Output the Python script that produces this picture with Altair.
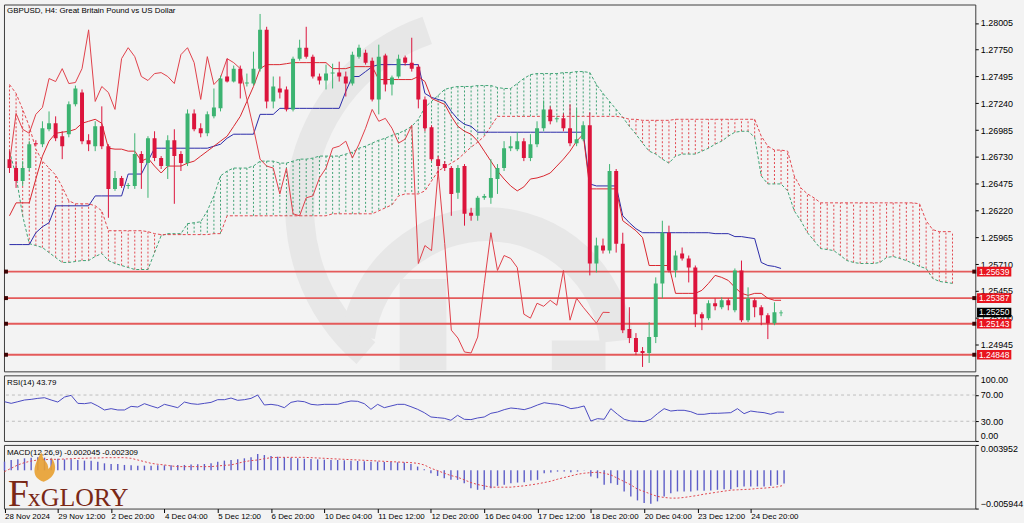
import json
import altair as alt
import pandas as pd

# ---------------- data ----------------
time_labels = ["28 Nov 2024", "29 Nov 12:00", "2 Dec 20:00", "4 Dec 04:00", "5 Dec 12:00",
               "6 Dec 20:00", "10 Dec 04:00", "11 Dec 12:00", "12 Dec 20:00", "16 Dec 04:00",
               "17 Dec 12:00", "18 Dec 20:00", "20 Dec 04:00", "23 Dec 12:00", "24 Dec 20:00"]

open_ = [1.26709, 1.26624, 1.26501, 1.26624, 1.26861, 1.26851, 1.26993, 1.27050, 1.26927, 1.26946,
         1.27230, 1.27343, 1.26889, 1.26832, 1.27021, 1.26832, 1.26426, 1.26530, 1.26454, 1.26454,
         1.26757, 1.26671, 1.26908, 1.26719, 1.26643, 1.26889, 1.26757, 1.26671, 1.27144, 1.27003,
         1.26955, 1.27116, 1.27192, 1.27495, 1.27447, 1.27570, 1.27428, 1.27428, 1.27570, 1.27939,
         1.27258, 1.27381, 1.27372, 1.27182, 1.27665, 1.27769, 1.27684, 1.27495, 1.27457, 1.27523,
         1.27532, 1.27495, 1.27428, 1.27684, 1.27722, 1.27646, 1.27277, 1.27694, 1.27419, 1.27495,
         1.27675, 1.27627, 1.27589, 1.27277, 1.27012, 1.26709, 1.26662, 1.26624, 1.26388, 1.26643,
         1.26199, 1.26170, 1.26341, 1.26341, 1.26520, 1.26624, 1.26813, 1.26804, 1.26880, 1.26719,
         1.26851, 1.27003, 1.27182, 1.27088, 1.27097, 1.27003, 1.26861, 1.26899, 1.27031, 1.25716,
         1.25887, 1.25839, 1.26596, 1.25905, 1.25092, 1.25007, 1.24884, 1.24865, 1.25016, 1.25527,
         1.26009, 1.25650, 1.25811, 1.25764, 1.25678, 1.25234, 1.25196, 1.25338, 1.25300, 1.25366,
         1.25271, 1.25650, 1.25177, 1.25366, 1.25300, 1.25224, 1.25148, 1.25243]
high_ = [1.26785, 1.26690, 1.26690, 1.26880, 1.26889, 1.27069, 1.27163, 1.27116, 1.26974, 1.27258,
         1.27409, 1.27372, 1.26946, 1.27069, 1.27211, 1.26851, 1.26596, 1.26549, 1.26482, 1.26955,
         1.26785, 1.26927, 1.26974, 1.26738, 1.26936, 1.26993, 1.26785, 1.27182, 1.27182, 1.27050,
         1.27163, 1.27381, 1.27504, 1.27665, 1.27599, 1.27599, 1.27523, 1.27731, 1.28090, 1.27968,
         1.27495, 1.27495, 1.27400, 1.27684, 1.27845, 1.27968, 1.27703, 1.27523, 1.27608, 1.27617,
         1.27636, 1.27542, 1.27731, 1.27798, 1.27750, 1.27675, 1.27798, 1.27712, 1.27504, 1.27703,
         1.27694, 1.27864, 1.27608, 1.27305, 1.27031, 1.26738, 1.26690, 1.26643, 1.26653, 1.26662,
         1.26246, 1.26359, 1.26378, 1.26709, 1.26662, 1.26880, 1.26927, 1.26965, 1.26908, 1.26946,
         1.27069, 1.27267, 1.27211, 1.27116, 1.27144, 1.27230, 1.27192, 1.27069, 1.27154, 1.25962,
         1.25953, 1.26662, 1.26615, 1.26009, 1.25300, 1.25054, 1.24921, 1.25158, 1.25584, 1.26123,
         1.26076, 1.25839, 1.25868, 1.25792, 1.25697, 1.25252, 1.25366, 1.25385, 1.25394, 1.25385,
         1.25669, 1.25744, 1.25489, 1.25385, 1.25319, 1.25243, 1.25347, 1.25271]
low_ = [1.26577, 1.26435, 1.26454, 1.26596, 1.26832, 1.26823, 1.26974, 1.26880, 1.26709, 1.26917,
        1.27211, 1.26851, 1.26785, 1.26785, 1.26804, 1.26151, 1.26407, 1.26435, 1.26426, 1.26426,
        1.26426, 1.26341, 1.26690, 1.26615, 1.26520, 1.26284, 1.26596, 1.26643, 1.26974, 1.26917,
        1.26927, 1.27097, 1.27163, 1.27438, 1.27438, 1.27286, 1.27400, 1.27409, 1.27542, 1.27192,
        1.27192, 1.27286, 1.27163, 1.27163, 1.27646, 1.27665, 1.27476, 1.27419, 1.27372, 1.27381,
        1.27447, 1.27305, 1.27409, 1.27665, 1.27608, 1.27258, 1.27135, 1.27353, 1.27315, 1.27476,
        1.27599, 1.27542, 1.27192, 1.26974, 1.26690, 1.26577, 1.26596, 1.26170, 1.26331, 1.26076,
        1.26123, 1.26123, 1.26322, 1.26284, 1.26378, 1.26596, 1.26785, 1.26785, 1.26690, 1.26690,
        1.26823, 1.26974, 1.27040, 1.27059, 1.26974, 1.26832, 1.26832, 1.26880, 1.25603, 1.25631,
        1.25811, 1.25811, 1.25820, 1.25054, 1.24959, 1.24846, 1.24732, 1.24770, 1.24959, 1.25385,
        1.25631, 1.25584, 1.25744, 1.25536, 1.25111, 1.25082, 1.25177, 1.25271, 1.25281, 1.25271,
        1.25252, 1.25158, 1.25158, 1.25205, 1.25129, 1.24997, 1.25129, 1.25215]
close_ = [1.26624, 1.26501, 1.26624, 1.26851, 1.26851, 1.27003, 1.27050, 1.26908, 1.26832, 1.27230,
          1.27381, 1.26880, 1.26851, 1.27021, 1.26832, 1.26426, 1.26530, 1.26454, 1.26463, 1.26757,
          1.26671, 1.26908, 1.26719, 1.26643, 1.26889, 1.26738, 1.26671, 1.27144, 1.26993, 1.26955,
          1.27135, 1.27201, 1.27476, 1.27447, 1.27570, 1.27428, 1.27438, 1.27570, 1.27939, 1.27258,
          1.27400, 1.27343, 1.27182, 1.27665, 1.27769, 1.27684, 1.27495, 1.27457, 1.27523, 1.27532,
          1.27495, 1.27428, 1.27703, 1.27769, 1.27627, 1.27277, 1.27684, 1.27419, 1.27485, 1.27665,
          1.27627, 1.27570, 1.27277, 1.27003, 1.26709, 1.26643, 1.26624, 1.26378, 1.26624, 1.26189,
          1.26170, 1.26341, 1.26359, 1.26530, 1.26624, 1.26813, 1.26832, 1.26880, 1.26719, 1.26851,
          1.27003, 1.27182, 1.27069, 1.27097, 1.27003, 1.26861, 1.26899, 1.27031, 1.25716, 1.25887,
          1.25839, 1.26596, 1.25905, 1.25082, 1.25007, 1.24874, 1.24865, 1.25016, 1.25527, 1.26009,
          1.25650, 1.25792, 1.25764, 1.25678, 1.25234, 1.25196, 1.25338, 1.25309, 1.25366, 1.25319,
          1.25650, 1.25177, 1.25385, 1.25300, 1.25224, 1.25148, 1.25252, 1.25250]

tenkan = [1.26170, 1.26293, 1.26293, 1.26293, 1.26520, 1.26738, 1.26880, 1.26955, 1.26965, 1.26974,
          1.26993, 1.27050, 1.27069, 1.27088, 1.27050, 1.26813, 1.26804, 1.26804, 1.26785, 1.26785,
          1.26690, 1.26719, 1.26643, 1.26577, 1.26643, 1.26643, 1.26643, 1.26671, 1.26690, 1.26738,
          1.26785, 1.26832, 1.26880, 1.26927, 1.27021, 1.27116, 1.27258, 1.27400, 1.27570, 1.27608,
          1.27608, 1.27608, 1.27617, 1.27627, 1.27627, 1.27627, 1.27627, 1.27627, 1.27627, 1.27570,
          1.27570, 1.27570, 1.27589, 1.27589, 1.27589, 1.27589, 1.27466, 1.27466, 1.27466, 1.27466,
          1.27466, 1.27466, 1.27495, 1.27447, 1.27286, 1.27258, 1.27230, 1.27116, 1.27021, 1.26974,
          1.26946, 1.26880, 1.26785, 1.26690, 1.26596, 1.26520, 1.26454, 1.26407, 1.26445, 1.26520,
          1.26530, 1.26549, 1.26577, 1.26643, 1.26709, 1.26785, 1.26880, 1.26946, 1.26426, 1.26426,
          1.26426, 1.26426, 1.26426, 1.26123, 1.26076, 1.26028, 1.25962, 1.25697, 1.25697, 1.25697,
          1.25697, 1.25432, 1.25432, 1.25432, 1.25432, 1.25461, 1.25527, 1.25603, 1.25584, 1.25555,
          1.25489, 1.25432, 1.25413, 1.25432, 1.25432, 1.25385, 1.25366, 1.25366]
kijun = [1.25896, 1.25896, 1.25896, 1.25896, 1.26009, 1.26066, 1.26104, 1.26265, 1.26265, 1.26265,
         1.26265, 1.26265, 1.26265, 1.26359, 1.26359, 1.26359, 1.26359, 1.26359, 1.26567, 1.26567,
         1.26567, 1.26690, 1.26813, 1.26813, 1.26813, 1.26813, 1.26813, 1.26813, 1.26813, 1.26813,
         1.26813, 1.26832, 1.26851, 1.26908, 1.26946, 1.26946, 1.26946, 1.26946, 1.27135, 1.27135,
         1.27135, 1.27192, 1.27192, 1.27192, 1.27192, 1.27192, 1.27192, 1.27192, 1.27192, 1.27192,
         1.27192, 1.27353, 1.27495, 1.27495, 1.27542, 1.27589, 1.27608, 1.27608, 1.27608, 1.27608,
         1.27608, 1.27608, 1.27608, 1.27334, 1.27296, 1.27277, 1.27258, 1.27163, 1.27088, 1.27040,
         1.27021, 1.26965, 1.26965, 1.26965, 1.26965, 1.26965, 1.26965, 1.26965, 1.26965, 1.26965,
         1.26965, 1.26965, 1.26965, 1.26965, 1.26965, 1.26965, 1.26965, 1.26965, 1.26473, 1.26454,
         1.26454, 1.26454, 1.26454, 1.26170, 1.26104, 1.26047, 1.26009, 1.26009, 1.26009, 1.26009,
         1.26009, 1.26009, 1.26009, 1.26009, 1.26009, 1.26009, 1.26009, 1.26000, 1.26000, 1.26000,
         1.25972, 1.25972, 1.25962, 1.25953, 1.25726, 1.25697, 1.25688, 1.25669]

span_a = [1.26785, 1.26549, 1.26170, 1.25905, 1.25887, 1.25868, 1.25820, 1.25773, 1.25726, 1.25726,
          1.25735, 1.25744, 1.25744, 1.25783, 1.25811, 1.25744, 1.25716, 1.25697, 1.25678, 1.25659,
          1.25659, 1.25659, 1.25820, 1.25981, 1.26000, 1.26000, 1.26000, 1.26095, 1.26104, 1.26113,
          1.26217, 1.26359, 1.26549, 1.26596, 1.26624, 1.26624, 1.26624, 1.26643, 1.26690, 1.26690,
          1.26690, 1.26671, 1.26671, 1.26690, 1.26709, 1.26709, 1.26719, 1.26738, 1.26738, 1.26738,
          1.26738, 1.26757, 1.26776, 1.26813, 1.26832, 1.26861, 1.26889, 1.26908, 1.26936, 1.26955,
          1.26984, 1.27021, 1.27088, 1.27201, 1.27258, 1.27315, 1.27372, 1.27390, 1.27400, 1.27400,
          1.27400, 1.27409, 1.27409, 1.27409, 1.27390, 1.27381, 1.27381, 1.27428, 1.27476, 1.27513,
          1.27523, 1.27523, 1.27523, 1.27523, 1.27532, 1.27532, 1.27542, 1.27542, 1.27532, 1.27419,
          1.27334, 1.27258, 1.27182, 1.27107, 1.27021, 1.26946, 1.26861, 1.26785, 1.26757, 1.26709,
          1.26671, 1.26738, 1.26757, 1.26757, 1.26757, 1.26785, 1.26813, 1.26851, 1.26880, 1.26927,
          1.26965, 1.26974, 1.26974, 1.26917, 1.26549, 1.26473, 1.26473, 1.26473, 1.26407, 1.26217,
          1.26123, 1.26009, 1.25934, 1.25858, 1.25849, 1.25839, 1.25792, 1.25744, 1.25726, 1.25716,
          1.25716, 1.25716, 1.25726, 1.25773, 1.25783, 1.25764, 1.25744, 1.25716, 1.25688, 1.25669,
          1.25574, 1.25546, 1.25536, 1.25527]
span_b = [1.27419, 1.27334, 1.27182, 1.27021, 1.26804, 1.26690, 1.26624, 1.26558, 1.26445, 1.26312,
          1.26284, 1.26284, 1.26284, 1.26265, 1.26217, 1.26028, 1.26028, 1.26028, 1.26028, 1.26028,
          1.26028, 1.26019, 1.26000, 1.25991, 1.25991, 1.25991, 1.25991, 1.25991, 1.25991, 1.25991,
          1.25991, 1.26000, 1.26000, 1.26170, 1.26170, 1.26170, 1.26170, 1.26170, 1.26170, 1.26170,
          1.26170, 1.26170, 1.26170, 1.26170, 1.26170, 1.26170, 1.26170, 1.26170, 1.26170, 1.26189,
          1.26189, 1.26189, 1.26189, 1.26189, 1.26189, 1.26189, 1.26217, 1.26246, 1.26274, 1.26359,
          1.26378, 1.26378, 1.26378, 1.26407, 1.26501, 1.26596, 1.26634, 1.26671, 1.26709, 1.26766,
          1.26823, 1.26870, 1.26927, 1.27021, 1.27116, 1.27116, 1.27116, 1.27116, 1.27116, 1.27116,
          1.27116, 1.27116, 1.27116, 1.27116, 1.27116, 1.27116, 1.27116, 1.27116, 1.27116, 1.27116,
          1.27116, 1.27116, 1.27116, 1.27107, 1.27088, 1.27088, 1.27078, 1.27078, 1.27078, 1.27078,
          1.27078, 1.27088, 1.27088, 1.27088, 1.27088, 1.27088, 1.27088, 1.27088, 1.27088, 1.27088,
          1.27088, 1.27088, 1.27088, 1.27088, 1.26927, 1.26832, 1.26795, 1.26795, 1.26785, 1.26549,
          1.26435, 1.26378, 1.26341, 1.26293, 1.26293, 1.26293, 1.26293, 1.26293, 1.26293, 1.26293,
          1.26293, 1.26293, 1.26293, 1.26293, 1.26293, 1.26293, 1.26293, 1.26293, 1.26284, 1.26123,
          1.26038, 1.26019, 1.26019, 1.26019]

rsi = [59.8, 57.3, 59.8, 62.4, 63.4, 64.9, 65.9, 62.4, 59.3, 66.9,
       69.5, 57.3, 56.8, 58.3, 53.3, 47.2, 49.2, 47.2, 47.2, 52.7,
       51.7, 56.8, 53.3, 50.2, 55.8, 53.3, 50.7, 59.3, 56.8, 55.8,
       57.3, 58.8, 62.9, 62.9, 65.4, 61.9, 62.9, 64.9, 70.0, 54.8,
       55.8, 54.3, 50.7, 58.8, 60.9, 59.8, 55.8, 54.8, 55.8, 55.8,
       55.8, 58.8, 60.9, 60.4, 56.8, 48.2, 55.8, 50.7, 53.3, 55.8,
       55.8, 52.2, 48.2, 43.1, 36.5, 35.5, 34.5, 31.5, 39.1, 33.0,
       32.5, 35.0, 36.5, 42.1, 44.1, 47.7, 50.2, 49.2, 47.7, 50.7,
       54.8, 58.3, 56.8, 55.8, 53.3, 49.2, 50.7, 53.3, 30.4, 34.0,
       33.0, 49.2, 40.6, 33.0, 30.4, 29.9, 29.4, 33.0, 41.6, 49.2,
       45.6, 46.7, 46.7, 44.6, 40.6, 40.6, 42.1, 42.1, 42.6, 43.1,
       49.2, 41.6, 45.6, 44.1, 43.1, 40.6, 44.1, 43.79]

macd_main = [0.00135, 0.00161, 0.00171, 0.00187, 0.00197, 0.00202, 0.00197, 0.00187, 0.00181, 0.00171,
             0.00171, 0.00161, 0.00151, 0.00151, 0.00135, 0.00109, 0.00099, 0.00099, 0.00084, 0.00078,
             0.00073, 0.00073, 0.00073, 0.00078, 0.00078, 0.00078, 0.00084, 0.00084, 0.00089, 0.00094,
             0.00099, 0.00109, 0.00135, 0.00151, 0.00161, 0.00171, 0.00187, 0.00202, 0.00254, 0.00238,
             0.00223, 0.00212, 0.00202, 0.00197, 0.00187, 0.00181, 0.00176, 0.00171, 0.00166, 0.00161,
             0.00161, 0.00156, 0.00151, 0.00145, 0.00140, 0.00135, 0.00135, 0.00130, 0.00130, 0.00125,
             0.00120, 0.00099, 0.00058, 0.00017, -0.00045, -0.00087, -0.00123, -0.00148, -0.00148, -0.00200,
             -0.00277, -0.00303, -0.00303, -0.00277, -0.00241, -0.00226, -0.00200, -0.00190, -0.00184, -0.00159,
             -0.00148, -0.00045, -0.00035, -0.00020, -0.00020, -0.00030, -0.00020, -0.00004, -0.00097, -0.00123,
             -0.00226, -0.00200, -0.00226, -0.00329, -0.00406, -0.00468, -0.00509, -0.00520, -0.00483, -0.00406,
             -0.00355, -0.00329, -0.00329, -0.00329, -0.00313, -0.00318, -0.00313, -0.00303, -0.00293, -0.00293,
             -0.00262, -0.00251, -0.00251, -0.00251, -0.00251, -0.00241, -0.00226, -0.002045]
macd_signal = [-0.00020, 0.00032, 0.00084, 0.00120, 0.00145, 0.00161, 0.00166, 0.00171, 0.00171, 0.00176,
               0.00181, 0.00187, 0.00187, 0.00192, 0.00192, 0.00197, 0.00197, 0.00197, 0.00197, 0.00187,
               0.00161, 0.00135, 0.00109, 0.00094, 0.00084, 0.00068, 0.00058, 0.00058, 0.00058, 0.00058,
               0.00058, 0.00058, 0.00068, 0.00078, 0.00084, 0.00109, 0.00135, 0.00151, 0.00161, 0.00181,
               0.00197, 0.00202, 0.00202, 0.00202, 0.00202, 0.00202, 0.00197, 0.00192, 0.00187, 0.00181,
               0.00176, 0.00171, 0.00166, 0.00161, 0.00156, 0.00151, 0.00145, 0.00140, 0.00135, 0.00130,
               0.00125, 0.00120, 0.00109, 0.00084, 0.00032, -0.00004, -0.00045, -0.00081, -0.00107, -0.00148,
               -0.00190, -0.00221, -0.00241, -0.00262, -0.00262, -0.00262, -0.00262, -0.00251, -0.00241, -0.00226,
               -0.00210, -0.00190, -0.00169, -0.00138, -0.00112, -0.00087, -0.00061, -0.00045, -0.00035, -0.00030,
               -0.00045, -0.00071, -0.00123, -0.00174, -0.00226, -0.00293, -0.00329, -0.00370, -0.00406, -0.00422,
               -0.00432, -0.00432, -0.00422, -0.00406, -0.00391, -0.00370, -0.00355, -0.00339, -0.00324, -0.00308,
               -0.00303, -0.00298, -0.00293, -0.00282, -0.00277, -0.00267, -0.00257, -0.002309]

levels = [1.25639, 1.25387, 1.25143, 1.24848]
last_price = 1.25250
price_ticks = [1.28005, 1.27750, 1.27495, 1.27240, 1.26985, 1.26730, 1.26475, 1.26220,
               1.25965, 1.25710, 1.25455, 1.25200, 1.24945]
rsi_ticks = [0, 30, 70, 100]
rsi_levels = [30, 70]
macd_range = [-0.005944, 0.003952]
title_text = "GBPUSD, H4:  Great Britain Pound vs US Dollar"
rsi_text = "RSI(14) 43.79"
macd_text = "MACD(12,26,9) -0.002045 -0.002309"
CHIKOU_SHIFT = 26

# ---------------- styling ----------------
W = 977
H_MAIN, H_RSI, H_MACD = 369, 66, 64
BG = "#F3F3F3"
GREEN = "#3CB371"
RED = "#DC143C"
CLOUD_G = "#3FA275"
CLOUD_R = "#E2474F"
TENKAN_C = "#D9262E"
KIJUN_C = "#2A2AA8"
CHIKOU_C = "#E0404A"
LEVEL_C = "#E45A5A"
RSI_C = "#4A4AC2"
HIST_C = "#5C5CC8"
SIG_C = "#E0464E"
WM = "#E7E7E7"
FONT = "Liberation Sans"

n = len(close_)
idx = list(range(n))
candles = pd.DataFrame({"i": idx, "o": open_, "h": high_, "l": low_, "c": close_})
ind = pd.DataFrame({"i": idx, "tenkan": tenkan, "kijun": kijun, "rsi": rsi,
                    "macd": macd_main, "signal": macd_signal})
cloud = pd.DataFrame({"i": list(range(len(span_a))), "a": span_a, "b": span_b})
lev = pd.DataFrame({"p": levels, "lab": [f"{v:.5f}" for v in levels]})
cur = pd.DataFrame({"p": [last_price], "lab": [f"{last_price:.5f}"]})

xscale = alt.Scale(domain=[-0.08, 145.7], nice=False, zero=False)
y_main = alt.Scale(domain=[1.24690, 1.28180], nice=False, zero=False)
yax_main = alt.Axis(orient="right", values=price_ticks, format=".5f", title=None, tickSize=3,
                    labelPadding=2, domain=False, grid=False)


def xm(field="i"):
    return alt.X(f"{field}:Q", scale=xscale, axis=None)


def ym(field):
    return alt.Y(f"{field}:Q", scale=y_main, axis=yax_main)


one = alt.Data(values=[{"k": 1}])

# faint "G" watermark (decoration, placed in pixels, kept inside the panel)
wm_outer = alt.Chart(one).mark_arc(radius=205, radius2=176, theta=3.85, theta2=5.95, color=WM,
                                   clip=True).encode(x=alt.value(488), y=alt.value(206))
wm_ring = alt.Chart(one).mark_arc(radius=148, radius2=114, theta=4.85, theta2=7.75, color=WM,
                                  clip=True).encode(x=alt.value(486), y=alt.value(352))
wm_stem = alt.Chart(one).mark_rect(color=WM, clip=True).encode(
    x=alt.value(398), x2=alt.value(445), y=alt.value(276), y2=alt.value(368))
wm_bar = alt.Chart(one).mark_rect(color=WM, clip=True).encode(
    x=alt.value(551), x2=alt.value(605), y=alt.value(338), y2=alt.value(368))

hatch = alt.Chart(cloud).mark_rule(strokeDash=[2, 2], strokeWidth=1).encode(
    x=xm(), y=ym("a"), y2="b:Q",
    color=alt.condition("datum.a >= datum.b", alt.value(CLOUD_G), alt.value(CLOUD_R)))
edge_a = alt.Chart(cloud).mark_line(strokeDash=[3, 2], strokeWidth=1, color=CLOUD_G).encode(x=xm(), y=ym("a"))
edge_b = alt.Chart(cloud).mark_line(strokeDash=[3, 2], strokeWidth=1, color=CLOUD_R).encode(x=xm(), y=ym("b"))
lev_lines = alt.Chart(lev).mark_rule(color=LEVEL_C, strokeWidth=1.8).encode(y=ym("p"))
kij = alt.Chart(ind).mark_line(color=KIJUN_C, strokeWidth=1).encode(x=xm(), y=ym("kijun"))
ten = alt.Chart(ind).mark_line(color=TENKAN_C, strokeWidth=1).encode(x=xm(), y=ym("tenkan"))
chikou = alt.Chart(candles).transform_calculate(ci=f"datum.i - {CHIKOU_SHIFT}").transform_filter(
    "datum.ci >= 0").mark_line(color=CHIKOU_C, strokeWidth=1).encode(x=xm("ci"), y=ym("c"))
candle_color = alt.condition("datum.c >= datum.o", alt.value(GREEN), alt.value(RED))
wicks = alt.Chart(candles).mark_rule(strokeWidth=1, clip=True).encode(
    x=xm(), y=ym("l"), y2="h:Q", color=candle_color)
bodies = alt.Chart(candles).mark_bar(size=4, clip=True).encode(
    x=xm(), y=ym("o"), y2="c:Q", color=candle_color)
title_mark = alt.Chart(one).mark_text(align="left", baseline="middle", fontSize=8, font=FONT,
                                      color="#000000", text=title_text).encode(
    x=alt.value(3), y=alt.value(7))
sq_left = alt.Chart(lev).mark_point(shape="square", size=16, filled=True, opacity=1,
                                    color="#3A0505").encode(x=alt.value(2), y=ym("p"))
sq_right = alt.Chart(lev).mark_point(shape="square", size=16, filled=True, opacity=1,
                                     color="#3A0505").encode(x=alt.value(976), y=ym("p"))
BOX = "M-1,-0.28L1,-0.28L1,0.28L-1,0.28Z"
lev_box = alt.Chart(lev).mark_point(shape=BOX, size=1190, filled=True, opacity=1, strokeWidth=0,
                                    color="#E8141E").encode(x=alt.value(996), y=ym("p"))
lev_txt = alt.Chart(lev).mark_text(color="#FFFFFF", fontSize=8.5, font=FONT, align="center",
                                   baseline="middle").encode(x=alt.value(996), y=ym("p"), text="lab:N")
cur_box = alt.Chart(cur).mark_point(shape=BOX, size=1190, filled=True, opacity=1, strokeWidth=0,
                                    color="#000000").encode(x=alt.value(996), y=ym("p"))
cur_txt = alt.Chart(cur).mark_text(color="#FFFFFF", fontSize=8.5, font=FONT, align="center",
                                   baseline="middle").encode(x=alt.value(996), y=ym("p"), text="lab:N")

main = alt.layer(wm_outer, wm_ring, wm_stem, wm_bar, hatch, edge_a, edge_b, lev_lines, kij, ten, chikou,
                 wicks, bodies, title_mark, sq_left, sq_right, lev_box, lev_txt, cur_box, cur_txt).properties(
    width=W, height=H_MAIN)

# ---------------- RSI panel ----------------
y_rsi = alt.Scale(domain=[0, 100], nice=False, zero=False)
yax_rsi = alt.Axis(orient="right", values=rsi_ticks, format=".2f", title=None, tickSize=3,
                   labelPadding=2, domain=False, grid=False, labelFlush=True)
rsi_lv = alt.Chart(pd.DataFrame({"v": rsi_levels})).mark_rule(
    color="#BDBDBD", strokeDash=[3, 3], strokeWidth=1).encode(y=alt.Y("v:Q", scale=y_rsi, axis=yax_rsi))
rsi_line = alt.Chart(ind).mark_line(color=RSI_C, strokeWidth=1).encode(
    x=xm(), y=alt.Y("rsi:Q", scale=y_rsi, axis=yax_rsi))
rsi_lab = alt.Chart(one).mark_text(align="left", baseline="middle", fontSize=8, font=FONT,
                                   color="#000000", text=rsi_text).encode(x=alt.value(3), y=alt.value(8))
rsi_panel = alt.layer(rsi_lv, rsi_line, rsi_lab).properties(width=W, height=H_RSI)

# ---------------- MACD panel ----------------
label_expr = json.dumps(time_labels) + "[round(datum.value / 8)]"
xax_bottom = alt.Axis(values=list(range(0, 8 * len(time_labels), 8)), labelExpr=label_expr, labelAngle=0,
                      labelAlign="left", labelBaseline="top", tickSize=4, labelPadding=0, domain=False,
                      grid=False, title=None, labelFlush=False, labelOverlap=False, labelBound=False,
                      labelFontSize=8)
y_macd = alt.Scale(domain=macd_range, nice=False, zero=False)
yax_macd = alt.Axis(orient="right", values=macd_range, format=".6f", title=None, tickSize=3,
                    labelPadding=2, domain=False, grid=False, labelFlush=True)
hist = alt.Chart(ind).mark_rule(color=HIST_C, strokeWidth=1.4).encode(
    x=alt.X("i:Q", scale=xscale, axis=xax_bottom),
    y=alt.Y("macd:Q", scale=y_macd, axis=yax_macd), y2=alt.datum(0))
sig = alt.Chart(ind).mark_line(color=SIG_C, strokeWidth=1, strokeDash=[2, 2]).encode(
    x=alt.X("i:Q", scale=xscale, axis=xax_bottom),
    y=alt.Y("signal:Q", scale=y_macd, axis=yax_macd))
macd_lab = alt.Chart(one).mark_text(align="left", baseline="middle", fontSize=8, font=FONT,
                                    color="#000000", text=macd_text).encode(x=alt.value(3), y=alt.value(8))
FLAME = ("M0,1C-0.9,0.7 -0.7,-0.1 -0.15,-1C-0.1,-0.4 0.35,-0.35 0.3,0.15"
         "C0.55,-0.05 0.6,-0.35 0.5,-0.65C0.95,-0.05 0.85,0.7 0,1Z")
flame = alt.Chart(one).mark_point(shape=FLAME, size=900, filled=True, opacity=0.9, strokeWidth=0,
                                  color="#E8A030").encode(x=alt.value(40), y=alt.value(22))
logo_f = alt.Chart(one).mark_text(align="left", baseline="alphabetic", fontSize=38, font="Liberation Serif",
                                  color="#7A2816", text="F").encode(x=alt.value(4), y=alt.value(61))
logo_rest = alt.Chart(one).mark_text(align="left", baseline="alphabetic", fontSize=26,
                                     font="Liberation Serif", color="#7A2816", text="xGLORY").encode(
    x=alt.value(24), y=alt.value(61))
macd_panel = alt.layer(hist, sig, macd_lab, flame, logo_f, logo_rest).properties(width=W, height=H_MACD)

chart = alt.vconcat(main, rsi_panel, macd_panel, spacing=2).properties(
    padding={"left": 2, "top": 2, "right": 0, "bottom": 0}, background=BG
).configure_view(stroke="#3C3C3C", strokeWidth=1, fill=BG).configure_axis(
    labelFont=FONT, labelFontSize=9, labelColor="#000000", tickColor="#000000")

chart.save("out.html", embed_options={"renderer": "svg", "actions": False})
